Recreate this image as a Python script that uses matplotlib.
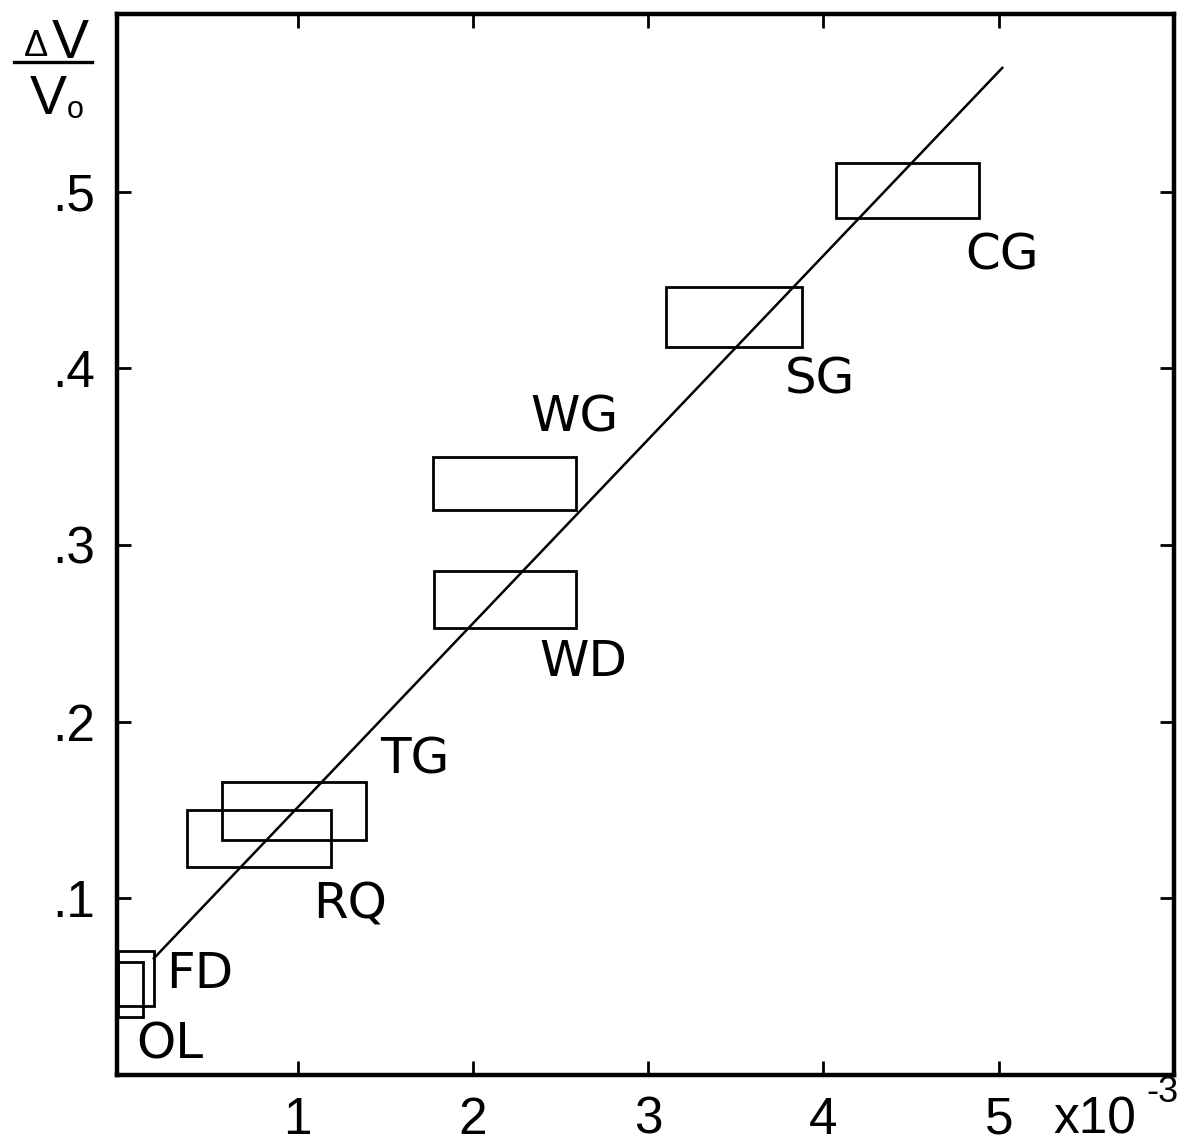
import matplotlib
matplotlib.use("Agg")
import matplotlib.pyplot as plt
from matplotlib.patches import Rectangle
from matplotlib.lines import Line2D

plt.rcParams['font.family'] = ['Liberation Sans', 'DejaVu Sans']

# Rock samples: strain range (x, units of 1e-3) and relative velocity change range (y)
samples = ["CG", "SG", "WG", "WD", "TG", "RQ", "FD", "OL"]
x_low = [4.07, 3.10, 1.77, 1.78, 0.57, 0.37, -0.025, -0.025]
x_high = [4.89, 3.88, 2.59, 2.59, 1.39, 1.19, 0.18, 0.12]
y_low = [0.485, 0.412, 0.320, 0.253, 0.133, 0.118, 0.039, 0.033]
y_high = [0.516, 0.446, 0.350, 0.285, 0.166, 0.150, 0.070, 0.064]

# Label anchor points for each sample
label_x = [5.02, 3.98, 2.58, 2.63, 1.67, 1.30, 0.44, 0.27]
label_y = [0.464, 0.3935, 0.372, 0.234, 0.1787, 0.0966, 0.057, 0.0173]

# Fitted trend line
trend_x = [0.18, 5.02]
trend_y = [0.066, 0.570]

x_ticks = [1, 2, 3, 4, 5]
x_tick_labels = ["1", "2", "3", "4", "5"]
y_ticks = [0.1, 0.2, 0.3, 0.4, 0.5]
y_tick_labels = [".1", ".2", ".3", ".4", ".5"]

fig = plt.figure(figsize=(11.84, 11.48), dpi=100)
ax = fig.add_axes([0.0988, 0.0636, 0.8928, 0.9242])
ax.set_xlim(-0.03, 6.0)
ax.set_ylim(0, 0.6005)

for xl, xh, yl, yh in zip(x_low, x_high, y_low, y_high):
    ax.add_patch(Rectangle((xl, yl), xh - xl, yh - yl, fill=False,
                           edgecolor="black", linewidth=2.0, zorder=3))

ax.plot(trend_x, trend_y, color="black", linewidth=1.8, zorder=2)

for name, lx, ly in zip(samples, label_x, label_y):
    ax.text(lx, ly, name, fontsize=36, family="DejaVu Sans",
            ha="center", va="center")

ax.set_xticks(x_ticks)
ax.set_xticklabels(x_tick_labels)
ax.set_yticks(y_ticks)
ax.set_yticklabels(y_tick_labels)
ax.tick_params(direction="in", length=10, width=2.0, top=True, right=True,
               labelsize=37)
ax.tick_params(axis="x", pad=15)
ax.tick_params(axis="y", pad=16)
for sp in ax.spines.values():
    sp.set_linewidth(3.2)

# Axis annotations: fraction dV/V0 and the x-scale multiplier
fig.text(36 / 1184, 1 - 47 / 1148, "Δ", fontsize=26, ha="center", va="center")
fig.text(70 / 1184, 1 - 44 / 1148, "V", fontsize=40, ha="center", va="center")
fig.add_artist(Line2D([14 / 1184, 92 / 1184], [1 - 62 / 1148, 1 - 62 / 1148],
                      color="black", linewidth=2.4))
fig.text(48 / 1184, 1 - 100 / 1148, "V", fontsize=40, ha="center", va="center")
fig.text(75 / 1184, 1 - 110 / 1148, "o", fontsize=22, ha="center", va="center")
fig.text(1095 / 1184, 1 - 1120 / 1148, "x10", fontsize=37,
         ha="center", va="center")
fig.text(1162 / 1184, 1 - 1092 / 1148, "-3", fontsize=26,
         ha="center", va="center")

fig.savefig("out.png", dpi=100, facecolor="white")
